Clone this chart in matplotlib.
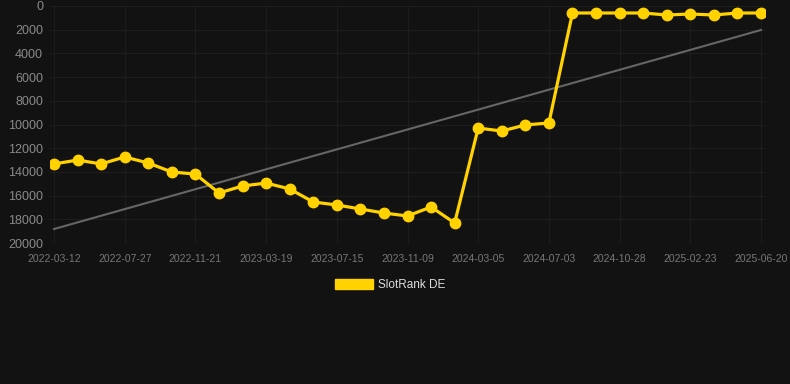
import matplotlib
matplotlib.use("Agg")
import matplotlib.pyplot as plt
from matplotlib.patches import Patch

# tick labels (every 3rd point)
tick_labels = ['2022-03-12', '2022-07-27', '2022-11-21', '2023-03-19', '2023-07-15',
               '2023-11-09', '2024-03-05', '2024-07-03', '2024-10-28', '2025-02-23',
               '2025-06-20']

# rank values
rank = [13330, 13000, 13330, 12740, 13250, 14010, 14180, 15780, 15190, 14940,
        15440, 16540, 16790, 17130, 17470, 17720, 16960, 18310, 10300, 10550,
        10040, 9870, 590, 590, 590, 590, 760, 675, 760, 590, 590]

trend = [18820, 2025]  # start and end of trend line

bg = '#121212'
yellow = '#FFD200'
plt.rcParams['font.family'] = ['Liberation Sans', 'DejaVu Sans']

fig = plt.figure(figsize=(7.9, 3.84), dpi=100, facecolor=bg)
ax = fig.add_axes([50/790, 1 - 243/384, 715/790, 237/384], facecolor=bg)

x = list(range(len(rank)))
ax.plot([0, len(rank) - 1], trend, color='#666666', lw=1.5, zorder=2)
ax.plot(x, rank, color=yellow, lw=2.3, marker='o', markersize=7.5, zorder=3)

ax.set_xlim(-0.17, len(rank) - 1 + 0.17)
ax.set_ylim(20000, 0)
ax.set_yticks(range(0, 20001, 2000))
ax.set_xticks(range(0, len(rank), 3))
ax.set_xticklabels(tick_labels)

ax.grid(True, color='#1d1d1d', lw=0.8)
ax.set_axisbelow(True)
for s in ax.spines.values():
    s.set_visible(False)
ax.tick_params(axis='x', colors='#777777', labelsize=7.5, length=0, pad=8)
ax.tick_params(axis='y', colors='#8a8a8a', labelsize=9, length=0, pad=5)

fig.legend(handles=[Patch(facecolor=yellow, edgecolor=yellow, label='SlotRank DE')],
           loc='center', bbox_to_anchor=(0.494, 1 - 285/384), frameon=False,
           labelcolor='#dddddd', fontsize=8.5, handlelength=3.2, handleheight=1.0,
           handletextpad=0.5)

fig.savefig('out.png', dpi=100, facecolor=bg)
